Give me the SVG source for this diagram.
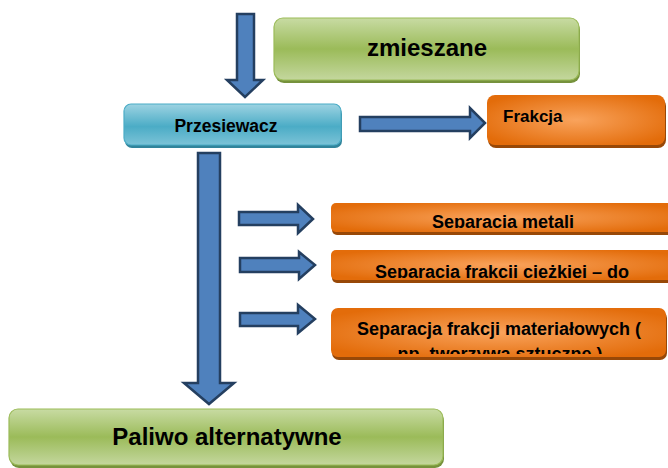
<svg xmlns="http://www.w3.org/2000/svg" width="668" height="468" viewBox="0 0 668 468">
<style>
.t{font-family:"Liberation Sans",Arial,sans-serif;font-weight:bold;fill:#000}
.arr{fill:#4f81bd;stroke:#243f60;stroke-width:2.5;stroke-linejoin:miter}
.gbox{fill:url(#gG);stroke:#9bbb59;stroke-width:1.2}
.gsh{fill:#76923c}
.bbox{fill:url(#gB);stroke:#4bacc6;stroke-width:1.2}
.bsh{fill:#31849b}
.obox{fill:url(#gO)}
.osh{fill:#984807}
</style>
<defs>
<linearGradient id="gG" x1="0" y1="0" x2="0" y2="1">
<stop offset="0" stop-color="#c8dba3"/>
<stop offset="0.5" stop-color="#9bbb59"/>
<stop offset="1" stop-color="#c4d79e"/>
</linearGradient>
<linearGradient id="gB" x1="0" y1="0" x2="0" y2="1">
<stop offset="0" stop-color="#9dd3e2"/>
<stop offset="0.55" stop-color="#4bacc6"/>
<stop offset="1" stop-color="#7cc3d7"/>
</linearGradient>
<radialGradient id="gO" cx="0.5" cy="0.5" r="0.6">
<stop offset="0" stop-color="#f9a35c"/>
<stop offset="1" stop-color="#e36c0a"/>
</radialGradient>
<clipPath id="c1"><rect x="331" y="203" width="345" height="25"/></clipPath>
<clipPath id="c2"><rect x="331" y="250" width="345" height="28"/></clipPath>
<clipPath id="c3"><rect x="331" y="308" width="336" height="46"/></clipPath>
</defs>

<g id="connectors">
<polygon class="arr" points="237,14 254,14 254,80 263,80 245,97 227,80 237,80"/>
<polygon class="arr" points="360,117 470,117 470,108 485,123 470,138 470,131 360,131"/>
<polygon class="arr" points="198,153 220,153 220,383 234,383 209,404 184,383 198,383"/>
<polygon class="arr" points="239,212 298,212 298,205 313,219 298,233 298,225 239,225"/>
<polygon class="arr" points="240,258 299,258 299,252 315,265 299,279 299,272 240,272"/>
<polygon class="arr" points="240,313 298,313 298,305 315,319 298,333 298,326 240,326"/>
</g>

<g id="zmieszane">
<rect class="gsh" x="275" y="21" width="305" height="62" rx="9"/>
<rect class="gbox" x="274" y="18" width="305" height="62" rx="9"/>
<text class="t" x="427" y="56" font-size="24" text-anchor="middle">zmieszane</text>
</g>

<g id="przesiewacz">
<rect class="bsh" x="125" y="107" width="217" height="41" rx="7"/>
<rect class="bbox" x="124" y="104" width="217" height="41" rx="7"/>
<text class="t" x="226" y="132" font-size="17.5" text-anchor="middle">Przesiewacz</text>
</g>

<g id="frakcja">
<rect class="osh" x="488" y="98" width="178" height="50" rx="8"/>
<rect class="obox" x="487" y="95" width="178" height="50" rx="8"/>
<text class="t" x="503" y="122" font-size="17">Frakcja</text>
</g>

<g id="metale">
<rect class="osh" x="332" y="206" width="345" height="29" rx="5"/>
<rect class="obox" x="331" y="203" width="345" height="29" rx="5"/>
<text class="t" x="503" y="228" font-size="18" text-anchor="middle" clip-path="url(#c1)">Separacja metali</text>
</g>

<g id="ciezka">
<rect class="osh" x="332" y="253" width="345" height="30" rx="5"/>
<rect class="obox" x="331" y="250" width="345" height="30" rx="5"/>
<text class="t" x="502" y="278" font-size="18" text-anchor="middle" clip-path="url(#c2)">Separacja frakcji ciężkiej – do</text>
</g>

<g id="materialowe">
<rect class="osh" x="332" y="311" width="335" height="49" rx="7"/>
<rect class="obox" x="331" y="308" width="335" height="49" rx="7"/>
<g clip-path="url(#c3)">
<text class="t" x="499" y="335" font-size="18" text-anchor="middle">Separacja frakcji materiałowych (</text>
<text class="t" x="500" y="359.5" font-size="18" text-anchor="middle">np. tworzywa sztuczne )</text>
</g>
</g>

<g id="paliwo">
<rect class="gsh" x="10" y="412" width="434" height="56" rx="9"/>
<rect class="gbox" x="9" y="409" width="434" height="56" rx="9"/>
<text class="t" x="227" y="445" font-size="24" text-anchor="middle">Paliwo alternatywne</text>
</g>
</svg>
